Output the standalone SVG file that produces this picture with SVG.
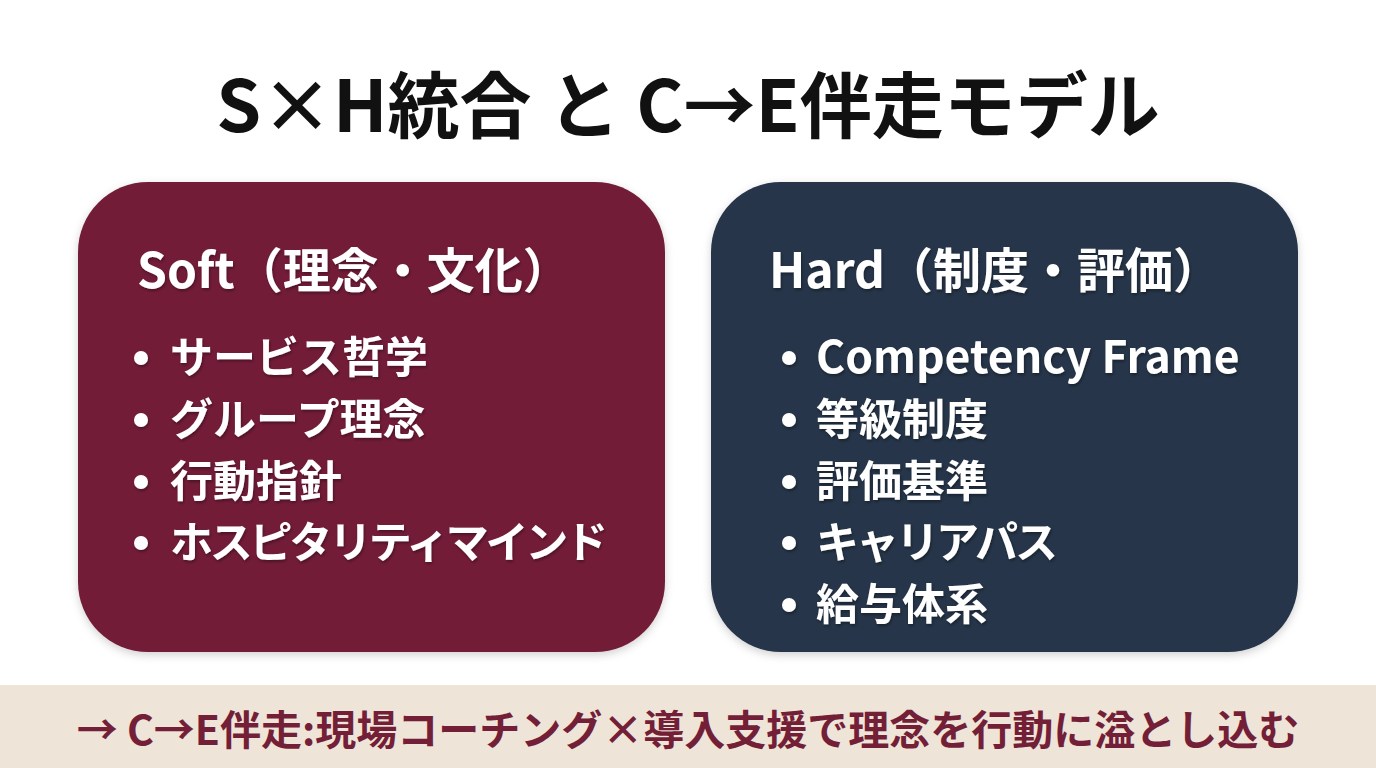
<svg xmlns="http://www.w3.org/2000/svg" width="1376" height="768" viewBox="0 0 1376 768">
<defs>
<filter id="sh" x="-10%" y="-10%" width="120%" height="120%"><feDropShadow dx="0" dy="3" stdDeviation="4" flood-color="#000" flood-opacity="0.18"/></filter>
<filter id="ts" x="-5%" y="-20%" width="110%" height="140%"><feDropShadow dx="1" dy="2" stdDeviation="1.5" flood-color="#000" flood-opacity="0.35"/></filter>
</defs>
<style>
text{font-family:"Noto Sans CJK JP","Noto Sans",sans-serif;font-weight:700}
.title{font-size:72px;fill:#111}
.hd{font-size:48px;fill:#fff}
.it{font-size:43px;fill:#fff}
.lat{font-size:44.5px}
.bul{fill:#fff}
.foot{font-size:41px;fill:#731F37}
</style>
<rect width="1376" height="768" fill="#fff"/>
<text class="title" x="688" y="132" text-anchor="middle">S×H統合 と C→E伴走モデル</text>
<g id="soft">
<rect x="78" y="182" width="587" height="470" rx="70" fill="#731F37" filter="url(#sh)"/>
<g filter="url(#ts)">
<text class="hd" x="137" y="288">Soft（理念・文化）</text>
<circle class="bul" cx="141" cy="358" r="7"/><text class="it" x="170" y="373">サービス哲学</text>
<circle class="bul" cx="141" cy="420" r="7"/><text class="it" x="170" y="435">グループ理念</text>
<circle class="bul" cx="141" cy="482" r="7"/><text class="it" x="170" y="497">行動指針</text>
<circle class="bul" cx="141" cy="543" r="7"/><text class="it" x="170" y="558" textLength="438" lengthAdjust="spacing">ホスピタリティマインド</text>
</g>
</g>
<g id="hard">
<rect x="711" y="182" width="587" height="470" rx="70" fill="#253449" filter="url(#sh)"/>
<g filter="url(#ts)">
<text class="hd" x="769" y="288">Hard（制度・評価）</text>
<circle class="bul" cx="789" cy="358" r="7"/><text class="it lat" x="816" y="373">Competency Frame</text>
<circle class="bul" cx="789" cy="420" r="7"/><text class="it" x="816" y="435">等級制度</text>
<circle class="bul" cx="789" cy="482" r="7"/><text class="it" x="816" y="497">評価基準</text>
<circle class="bul" cx="789" cy="543" r="7"/><text class="it" x="816" y="558" textLength="242" lengthAdjust="spacing">キャリアパス</text>
<circle class="bul" cx="789" cy="605" r="7"/><text class="it" x="816" y="620">給与体系</text>
</g>
</g>
<g id="footer">
<rect x="0" y="685" width="1376" height="83" fill="#EFE4D8"/>
<text class="foot" x="688" y="745" text-anchor="middle">→ C→E伴走:現場コーチング×導入支援で理念を行動に溢とし込む</text>
</g>
<g id="connectors"/>
</svg>
